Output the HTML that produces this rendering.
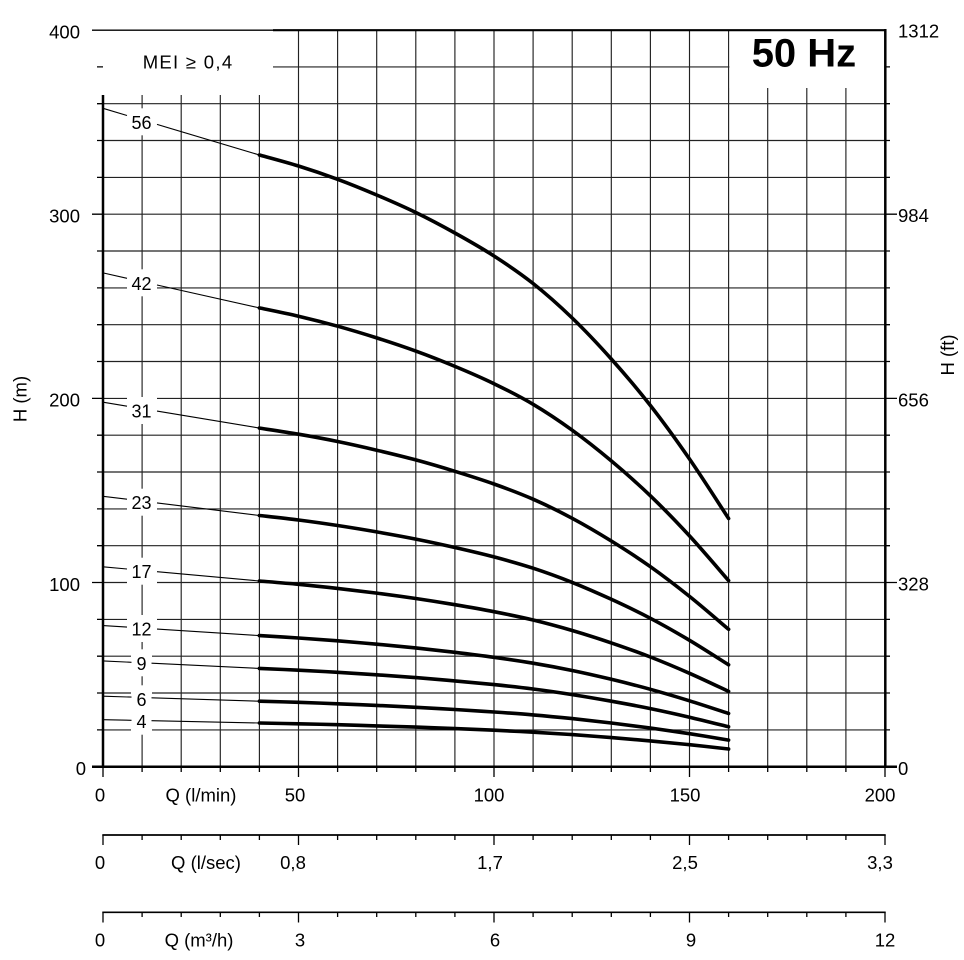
<!DOCTYPE html>
<html><head><meta charset="utf-8"><style>
html,body{margin:0;padding:0;background:#fff;}
svg{display:block;}
text{font-family:"Liberation Sans",sans-serif;fill:#000;}
</style></head><body>
<svg width="964" height="960" viewBox="0 0 964 960" xmlns="http://www.w3.org/2000/svg">
<rect width="964" height="960" fill="#fff"/>
<!-- grid -->
<path stroke="#222" stroke-width="1.15" fill="none" d="
M142.1 30V767 M181.2 30V767 M220.3 30V767 M259.4 30V767 M298.5 30V767 M337.6 30V767 M376.7 30V767 M415.8 30V767 M454.9 30V767 M494 30V767 M533.1 30V767 M572.2 30V767 M611.3 30V767 M650.4 30V767 M689.5 30V767 M728.6 30V767 M767.7 30V767 M806.8 30V767 M845.9 30V767
M103 729.9H885 M103 693H885 M103 656.2H885 M103 619.4H885 M103 582.5H885 M103 545.7H885 M103 508.9H885 M103 472H885 M103 435.2H885 M103 398.4H885 M103 361.5H885 M103 324.7H885 M103 287.9H885 M103 251H885 M103 214.2H885 M103 177.4H885 M103 140.5H885 M103 103.7H885 M103 66.9H885"/>
<!-- white boxes -->
<rect x="100.5" y="30.5" width="172.5" height="64.5" fill="#fff"/>
<rect x="729.4" y="30.5" width="155" height="57.5" fill="#fff"/>
<!-- label boxes -->
<g fill="#fff">
<rect x="127" y="108.3" width="30" height="27"/>
<rect x="127" y="269.3" width="30" height="27"/>
<rect x="127" y="397" width="30" height="27"/>
<rect x="127" y="488.7" width="30" height="27"/>
<rect x="127" y="557.7" width="30" height="27"/>
<rect x="127" y="615" width="30" height="27"/>
<rect x="131" y="649.3" width="21" height="27"/>
<rect x="131" y="685.3" width="21" height="27"/>
<rect x="131" y="707.7" width="21" height="27"/>
</g>
<!-- axes -->
<path stroke="#000" stroke-width="1.4" fill="none" d="M92 30.2H273"/>
<path stroke="#000" stroke-width="2.2" fill="none" d="M273 30.2H886.5"/>
<path stroke="#000" stroke-width="2.5" fill="none" d="M103 95V768 M885.3 29V768 M92 766.7H897"/>
<!-- left ticks -->
<path stroke="#000" stroke-width="1.3" fill="none" d="
M92 214.2H103 M92 398.4H103 M92 582.5H103
M97 729.9H103 M97 693H103 M97 656.2H103 M97 619.4H103 M97 545.7H103 M97 508.9H103 M97 472H103 M97 435.2H103 M97 361.5H103 M97 324.7H103 M97 287.9H103 M97 251H103 M97 177.4H103 M97 140.5H103 M97 103.7H103 M97 66.9H103
M885 214.2H897 M885 398.4H897 M885 582.5H897
M885 729.9H890 M885 693H890 M885 656.2H890 M885 619.4H890 M885 545.7H890 M885 508.9H890 M885 472H890 M885 435.2H890 M885 361.5H890 M885 324.7H890 M885 287.9H890 M885 251H890 M885 177.4H890 M885 140.5H890 M885 103.7H890 M885 66.9H890"/>
<!-- bottom axis ticks row1 -->
<path stroke="#000" stroke-width="1.3" fill="none" d="
M103 767V777 M298.5 767V777 M494 767V777 M689.5 767V777 M885 767V777
M142.1 767V772 M181.2 767V772 M220.3 767V772 M259.4 767V772 M337.6 767V772 M376.7 767V772 M415.8 767V772 M454.9 767V772 M533.1 767V772 M572.2 767V772 M611.3 767V772 M650.4 767V772 M728.6 767V772 M767.7 767V772 M806.8 767V772 M845.9 767V772"/>
<!-- axis 2 -->
<path stroke="#000" stroke-width="1.7" fill="none" d="M102.3 835H885.7"/>
<path stroke="#000" stroke-width="1.3" fill="none" d="
M103 835V845 M298.5 835V845 M494 835V845 M689.5 835V845 M885 835V845
M142.1 835V840 M181.2 835V840 M220.3 835V840 M259.4 835V840 M337.6 835V840 M376.7 835V840 M415.8 835V840 M454.9 835V840 M533.1 835V840 M572.2 835V840 M611.3 835V840 M650.4 835V840 M728.6 835V840 M767.7 835V840 M806.8 835V840 M845.9 835V840"/>
<!-- axis 3 -->
<path stroke="#000" stroke-width="1.7" fill="none" d="M102.3 912.3H885.7"/>
<path stroke="#000" stroke-width="1.3" fill="none" d="
M103 912.3V922.5 M298.5 912.3V922.5 M494 912.3V922.5 M689.5 912.3V922.5 M885 912.3V922.5
M142.1 912.3V917 M181.2 912.3V917 M220.3 912.3V917 M259.4 912.3V917 M337.6 912.3V917 M376.7 912.3V917 M415.8 912.3V917 M454.9 912.3V917 M533.1 912.3V917 M572.2 912.3V917 M611.3 912.3V917 M650.4 912.3V917 M728.6 912.3V917 M767.7 912.3V917 M806.8 912.3V917 M845.9 912.3V917"/>
<!-- thin extension lines -->
<path stroke="#000" stroke-width="1.1" fill="none" d="
M103 108.3L127 115.5 M157 124.4L259.4 155
M103 272.9L127 278.3 M157 285L259.4 307.9
M103 402.2L127 406.2 M157 411.1L259.4 428.1
M103 496.3L127 499.2 M157 502.9L259.4 515.5
M103 566.8L127 569 M157 571.7L259.4 581
M103 625.6L127 627.1 M157 629.1L259.4 635.6
M103 660.9L131.5 662.3 M151.5 663.2L259.4 668.4
M103 696.2L131.5 697.1 M151.5 697.8L259.4 701.2
M103 719.7L131.5 720.3 M151.5 720.7L259.4 723"/>
<!-- curves -->
<g id="curves" stroke="#000" stroke-width="3.6" fill="none" stroke-linejoin="round" stroke-linecap="round">
<polyline points="259.4,155 298.5,166 337.6,179.3 376.7,195 415.8,212.5 454.9,233 494,256 533.1,283.5 572.2,318 611.3,359 650.4,405.5 689.5,459 728.6,518.5"/>
<polyline points="259.4,307.9 298.5,316.2 337.6,326.2 376.7,337.9 415.8,351.1 454.9,366.4 494,383.7 533.1,404.3 572.2,430.2 611.3,460.9 650.4,495.8 689.5,535.9 728.6,580.6"/>
<polyline points="259.4,428.1 298.5,434.2 337.6,441.5 376.7,450.2 415.8,459.9 454.9,471.3 494,484 533.1,499.2 572.2,518.3 611.3,541 650.4,566.7 689.5,596.4 728.6,629.3"/>
<polyline points="259.4,515.5 298.5,520 337.6,525.5 376.7,531.9 415.8,539.1 454.9,547.5 494,556.9 533.1,568.2 572.2,582.4 611.3,599.3 650.4,618.3 689.5,640.3 728.6,664.8"/>
<polyline points="259.4,581 298.5,584.3 337.6,588.4 376.7,593.1 415.8,598.5 454.9,604.7 494,611.7 533.1,620 572.2,630.5 611.3,642.9 650.4,657 689.5,673.3 728.6,691.4"/>
<polyline points="259.4,635.6 298.5,638 337.6,640.8 376.7,644.2 415.8,647.9 454.9,652.3 494,657.3 533.1,663.2 572.2,670.5 611.3,679.3 650.4,689.3 689.5,700.8 728.6,713.5"/>
<polyline points="259.4,668.4 298.5,670.2 337.6,672.3 376.7,674.8 415.8,677.6 454.9,680.9 494,684.6 533.1,689 572.2,694.6 611.3,701.2 650.4,708.6 689.5,717.2 728.6,726.8"/>
<polyline points="259.4,701.2 298.5,702.3 337.6,703.8 376.7,705.4 415.8,707.3 454.9,709.5 494,712 533.1,714.9 572.2,718.6 611.3,723 650.4,728 689.5,733.7 728.6,740.1"/>
<polyline points="259.4,723 298.5,723.8 337.6,724.7 376.7,725.9 415.8,727.1 454.9,728.6 494,730.2 533.1,732.2 572.2,734.6 611.3,737.6 650.4,740.9 689.5,744.7 728.6,749"/>
</g>
<!-- curve labels -->
<g font-size="18" text-anchor="middle">
<text x="141.5" y="128.8">56</text>
<text x="141.5" y="289.8">42</text>
<text x="141.5" y="417.5">31</text>
<text x="141.5" y="509.2">23</text>
<text x="141.5" y="578.2">17</text>
<text x="141.5" y="635.5">12</text>
<text x="141.5" y="669.8">9</text>
<text x="141.5" y="705.8">6</text>
<text x="141.5" y="728.2">4</text>
</g>
<!-- titles -->
<text x="142.7" y="68.3" font-size="18.5" letter-spacing="1.3">MEI ≥ 0,4</text>
<text x="751.7" y="66.7" font-size="40" font-weight="bold">50 Hz</text>
<!-- left labels -->
<g font-size="18.5" text-anchor="end">
<text x="80" y="38.3">400</text>
<text x="80" y="222.5">300</text>
<text x="80" y="406.7">200</text>
<text x="80" y="590.8">100</text>
<text x="86" y="775">0</text>
</g>
<!-- right labels -->
<g font-size="18.5">
<text x="898" y="37.7">1312</text>
<text x="898" y="222.2">984</text>
<text x="898" y="406.5">656</text>
<text x="898" y="590.5">328</text>
<text x="898" y="775">0</text>
</g>
<text transform="translate(26.7,399) rotate(-90)" font-size="18.5" text-anchor="middle">H (m)</text>
<text transform="translate(954,355) rotate(-90)" font-size="18.5" text-anchor="middle">H (ft)</text>
<!-- bottom labels -->
<g font-size="18.5" text-anchor="middle">
<text x="100" y="801.5">0</text>
<text x="201" y="801.5">Q (l/min)</text>
<text x="295" y="801.5">50</text>
<text x="489" y="801.5">100</text>
<text x="685" y="801.5">150</text>
<text x="880" y="801.5">200</text>
<text x="100" y="869">0</text>
<text x="206" y="869">Q (l/sec)</text>
<text x="293" y="869">0,8</text>
<text x="490" y="869">1,7</text>
<text x="685" y="869">2,5</text>
<text x="880" y="869">3,3</text>
<text x="100" y="946.5">0</text>
<text x="199" y="946.5">Q (m³/h)</text>
<text x="300" y="946.5">3</text>
<text x="495" y="946.5">6</text>
<text x="691" y="946.5">9</text>
<text x="885" y="946.5">12</text>
</g>
</svg>
<script>
(function(){
  var g=document.getElementById('curves');
  if(!g) return;
  var pls=Array.prototype.slice.call(g.getElementsByTagName('polyline'));
  pls.forEach(function(pl){
    var pts=pl.getAttribute('points').trim().split(/\s+/).map(function(s){var a=s.split(',');return [parseFloat(a[0]),parseFloat(a[1])];});
    var n=pts.length, d='M'+pts[0][0]+' '+pts[0][1];
    for(var i=0;i<n-1;i++){
      var p0=pts[i>0?i-1:i], p1=pts[i], p2=pts[i+1], p3=pts[i+2<n?i+2:i+1];
      var c1x=p1[0]+(p2[0]-p0[0])/6, c1y=p1[1]+(p2[1]-p0[1])/6;
      var c2x=p2[0]-(p3[0]-p1[0])/6, c2y=p2[1]-(p3[1]-p1[1])/6;
      d+=' C'+c1x.toFixed(2)+' '+c1y.toFixed(2)+' '+c2x.toFixed(2)+' '+c2y.toFixed(2)+' '+p2[0]+' '+p2[1];
    }
    var p=document.createElementNS('http://www.w3.org/2000/svg','path');
    p.setAttribute('d',d);
    g.replaceChild(p,pl);
  });
})();
</script>
</body></html>
